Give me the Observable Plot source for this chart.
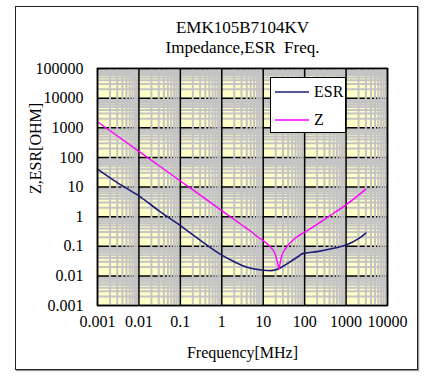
<!DOCTYPE html>
<html>
<head>
<meta charset="utf-8">
<script src="https://cdn.jsdelivr.net/npm/d3@7"></script>
<script src="https://cdn.jsdelivr.net/npm/@observablehq/plot@0.6"></script>
<style>
  html, body { margin: 0; padding: 0; background: #fff; }
  #wrap { position: relative; width: 427px; height: 376px; font-family: 'Liberation Serif', 'Times New Roman', 'DejaVu Serif', serif; }
  #outer { position: absolute; left: 15px; top: 6px; width: 401px; height: 362px; border: 1.5px solid #222; box-shadow: 1px 1px 1px #999; }
  #legend { position: absolute; left: 270px; top: 77px; width: 74px; height: 54px; background: #fff; border: 1px solid #000; font-size: 16px; }
  #legend .row { position: absolute; left: 4px; height: 20px; display: flex; align-items: center; }
  #legend svg { margin-right: 5px; }
  #chart { position: absolute; left: 0; top: 0; }
  #chart svg, #chart svg text { font-family: 'Liberation Serif', 'Times New Roman', 'DejaVu Serif', serif !important; }
</style>
</head>
<body>
<div id="wrap">
  <div id="outer"></div>
  <div id="chart"></div>
  <div id="legend"></div>
</div>
<script>
// ---- data ----
const seriesNames = ["ESR", "Z"];
const seriesColors = ["#1c1c78", "#ff00ff"];

const esrFreq = [0.001, 0.003, 0.01, 0.03, 0.1, 0.3, 1, 2, 3, 5, 10, 15, 20, 25, 35, 50, 70, 85, 100, 200, 500, 1000, 2000, 3000];
const esrVal  = [40, 14, 5, 1.6, 0.5, 0.16, 0.05, 0.03, 0.023, 0.018, 0.0155, 0.015, 0.016, 0.018, 0.024, 0.033, 0.045, 0.055, 0.058, 0.066, 0.085, 0.11, 0.18, 0.28];

const zFreq = [0.001, 0.01, 0.1, 1, 3, 5, 8, 10, 13, 16, 19, 21, 23, 24, 25, 27, 30, 35, 40, 50, 60, 80, 100, 200, 500, 1000, 2000, 3000];
const zVal  = [1600, 160, 16, 1.6, 0.53, 0.32, 0.19, 0.155, 0.115, 0.085, 0.058, 0.038, 0.022, 0.017, 0.022, 0.04, 0.06, 0.085, 0.11, 0.15, 0.19, 0.25, 0.3, 0.55, 1.3, 2.5, 5.3, 8.5];

const xTicks = [0.001, 0.01, 0.1, 1, 10, 100, 1000, 10000];
const xTickLabels = ["0.001", "0.01", "0.1", "1", "10", "100", "1000", "10000"];
const yTicks = [0.001, 0.01, 0.1, 1, 10, 100, 1000, 10000, 100000];
const yTickLabels = ["0.001", "0.01", "0.1", "1", "10", "100", "1000", "10000", "100000"];

const titleLines = ["EMK105B7104KV", "Impedance,ESR\u00a0 Freq."];
const xLabel = "Frequency[MHz]";
const yLabel = "Z,ESR[OHM]";

// ---- build ----
const esr = esrFreq.map((f, i) => ({f, v: esrVal[i]}));
const z = zFreq.map((f, i) => ({f, v: zVal[i]}));
const minor = ticks => ticks.slice(0, -1).flatMap(d => [2,3,4,5,6,7,8,9].map(k => d * k));
const xMinor = minor(xTicks);
const yMinor = minor(yTicks);

const chart = Plot.plot({
  width: 427,
  height: 376,
  marginLeft: 97,
  marginRight: 40,
  marginTop: 68,
  marginBottom: 71,
  style: {fontFamily: "'Liberation Serif', 'Times New Roman', serif", fontSize: "16px", background: "transparent", color: "#000"},
  x: {type: "log", domain: [0.001, 10000]},
  y: {type: "log", domain: [0.001, 100000]},
  marks: [
    Plot.frame({fill: "#ffffc8", stroke: null}),
    Plot.ruleY(yMinor, {stroke: "#c4c4c4", strokeWidth: 2}),
    Plot.ruleY(yTicks, {stroke: "#000", strokeWidth: 1.5}),
    Plot.ruleX(xMinor, {stroke: "#c4c4c4", strokeWidth: 2}),
    Plot.ruleX(xTicks, {stroke: "#000", strokeWidth: 1.5}),
    Plot.line(esr, {x: "f", y: "v", stroke: seriesColors[0], strokeWidth: 1.6, curve: "monotone-x"}),
    Plot.line(z, {x: "f", y: "v", stroke: seriesColors[1], strokeWidth: 1.4, curve: "monotone-x"}),
    Plot.frame({stroke: "#000", strokeWidth: 1.5}),
    Plot.axisX({ticks: xTicks, tickFormat: (d) => xTickLabels[xTicks.indexOf(d)], tickSize: 0, tickPadding: 10, label: null}),
    Plot.axisY({ticks: yTicks, tickFormat: (d) => yTickLabels[yTicks.indexOf(d)], tickSize: 0, tickPadding: 14, label: null}),
    Plot.text([titleLines[0]], {frameAnchor: "top", dy: -48, fontSize: 17}),
    Plot.text([titleLines[1]], {frameAnchor: "top", dy: -28, fontSize: 17}),
    Plot.text([xLabel], {frameAnchor: "bottom", dy: 52, fontSize: 16}),
    Plot.text([yLabel], {frameAnchor: "left", rotate: -90, dx: -62, dy: 7, fontSize: 16})
  ]
});
document.getElementById("chart").appendChild(chart);

// legend
const legend = document.getElementById("legend");
seriesNames.forEach((name, i) => {
  const row = document.createElement("div");
  row.className = "row";
  row.style.top = (i === 0 ? 4 : 32) + "px";
  row.innerHTML = `<svg width="34" height="4"><line x1="0" x2="34" y1="2" y2="2" stroke="${seriesColors[i]}" stroke-width="1.5"/></svg><span>${name}</span>`;
  legend.appendChild(row);
});
</script>
</body>
</html>
